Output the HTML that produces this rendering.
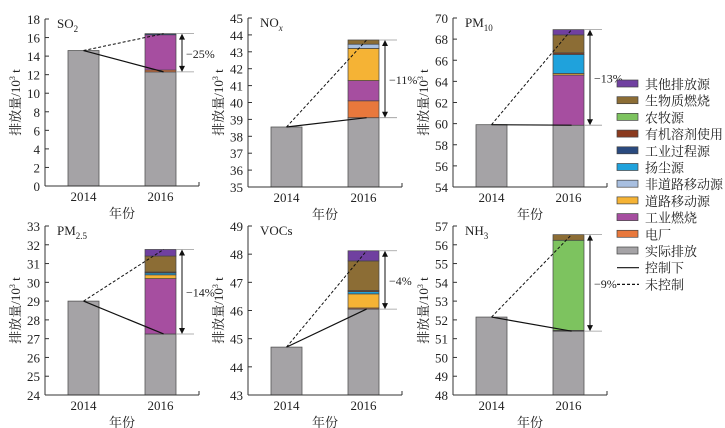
<!DOCTYPE html>
<html><head><meta charset="utf-8">
<style>
body{margin:0;background:#fff;}
svg{display:block;font-family:"Liberation Serif","Noto Serif CJK SC",serif;}
</style></head>
<body>
<svg id="chart" width="725" height="428" viewBox="0 0 725 428"></svg>
<script>
// ---- data ----
const panelTitles = ["SO2","NOx","PM10","PM2.5","VOCs","NH3"];
const yMins = [0,35,54,24,43,48];
const yMaxs = [18,45,70,33,49,57];
const tickSteps = [2,1,2,1,1,1];
const years = ["2014","2016"];
const emis2014 = [14.6,38.55,59.9,29.0,44.7,52.15];
const actual2016 = [12.3,39.1,59.85,27.25,46.05,51.4];
const changeLabels = ["−25%","−11%","−13%","−14%","−4%","−9%"];
const sources = ["电厂","工业燃烧","道路移动源","非道路移动源","扬尘源","工业过程源","有机溶剂使用","农牧源","生物质燃烧","其他排放源"];
const colors = ["#e8783c","#a64ea0","#f5b335","#a8bfe0","#1fa2dc","#2a4a7f","#8b3a1e","#7dc35f","#8c6d35","#7040a0"];
const segSO2  = [0.2,3.8,0,0,0,0.12,0,0,0,0];
const segNOx  = [1.0,1.2,1.9,0.25,0,0,0,0,0.25,0];
const segPM10 = [0,4.75,0.15,0,1.8,0,0.15,0,1.7,0.5];
const segPM25 = [0,2.95,0.2,0,0.1,0,0.05,0,0.85,0.35];
const segVOCs = [0.04,0,0.5,0,0.08,0,0.04,0,1.05,0.36];
const segNH3  = [0,0,0,0,0,0,0.04,4.8,0.3,0];
const segs = [segSO2,segNOx,segPM10,segPM25,segVOCs,segNH3];
const legendLabels = ["其他排放源","生物质燃烧","农牧源","有机溶剂使用","工业过程源","扬尘源","非道路移动源","道路移动源","工业燃烧","电厂","实际排放","控制下","未控制"];

// ---- layout ----
const axLeft=[45,248,453,45,248,453];
const axTop=[19,18,18,226,226,226];
const axBot=[186,187,187,395,395,395];
const AXW=154, BW=31, B1=23, B2=100;
const NS="http://www.w3.org/2000/svg";
const svg=document.getElementById('chart');
function el(t,a,p){const e=document.createElementNS(NS,t);for(const k in a)e.setAttribute(k,a[k]);(p||svg).appendChild(e);return e;}

const titleHTML=[["SO",["2"]],["NO",["x"]],["PM",["10"]],["PM",["2.5"]],["VOCs",[]],["NH",["3"]]];

for(let p=0;p<6;p++){
  const g=el('g',{});
  
  
  const L=axLeft[p],T=axTop[p],Bt=axBot[p];
  const y=v=>Bt-(v-yMins[p])/(yMaxs[p]-yMins[p])*(Bt-T);
  const x1=L+B1,x2=L+B2;
  const b1=el('rect',{x:x1,y:y(emis2014[p]),width:BW,height:Bt-y(emis2014[p]),fill:'#a5a3a6',stroke:'#555','stroke-width':0.8},g);
  
  
  const b2=el('rect',{x:x2,y:y(actual2016[p]),width:BW,height:Bt-y(actual2016[p]),fill:'#a5a3a6',stroke:'#555','stroke-width':0.8},g);
  
  
  let cum=actual2016[p];
  segs[p].forEach((v,i)=>{
    if(v<=0)return;
    const r=el('rect',{x:x2,y:y(cum+v),width:BW,height:y(cum)-y(cum+v),fill:colors[i],stroke:'#444','stroke-width':0.7},g);
    
    
    cum+=v;
  });
  const total=cum;
  el('line',{x1:L,y1:T,x2:L,y2:Bt,stroke:'#333','stroke-width':1},g);
  el('line',{x1:L,y1:Bt,x2:L+AXW,y2:Bt,stroke:'#333','stroke-width':1},g);
  el('line',{x1:L+AXW,y1:Bt,x2:L+AXW,y2:Bt-4,stroke:'#333','stroke-width':1},g);
  for(let v=yMins[p];v<=yMaxs[p]+1e-9;v+=tickSteps[p]){
    el('line',{x1:L,y1:y(v),x2:L+4,y2:y(v),stroke:'#333','stroke-width':1},g);
    const t=el('text',{x:L-5,y:y(v)+5,'text-anchor':'end','font-size':13,fill:'#222'},g);
    t.textContent=v;
    
    
  }
  [x1,x2].forEach((xx,i)=>{
    const t=el('text',{x:xx+BW/2,y:Bt+15,'text-anchor':'middle','font-size':13,fill:'#222'},g);
    t.textContent=years[i];
    
    
  });
  const xt=el('text',{x:L+77,y:Bt+32,'text-anchor':'middle','font-size':13,fill:'#222'},g);
  xt.textContent='年份';
  
  
  const yt=el('text',{x:0,y:0,'text-anchor':'middle','font-size':13,fill:'#222',transform:`translate(${L-25},${(T+Bt)/2}) rotate(-90)`},g);
  yt.innerHTML='排放量/10<tspan dy="-5" font-size="8">3</tspan><tspan dy="5"> t</tspan>';
  
  
  const tt=el('text',{x:L+12,y:T+9,'font-size':13,fill:'#222'},g);
  tt.innerHTML=titleHTML[p][0]+(titleHTML[p][1].length?`<tspan dy="4" font-size="9" ${p==1?'font-style="italic"':''}>${titleHTML[p][1][0]}</tspan>`:'');
  
  
  const cx1=x1+BW/2;
  el('line',{x1:cx1,y1:y(emis2014[p]),x2:x2+BW*0.6,y2:y(actual2016[p]),stroke:'#111','stroke-width':1.2},g);
  el('line',{x1:cx1,y1:y(emis2014[p]),x2:x2+BW*0.6,y2:y(total),stroke:'#111','stroke-width':1,'stroke-dasharray':'3,2'},g);
  const xr=x2+BW;
  el('line',{x1:xr,y1:y(total),x2:xr+18,y2:y(total),stroke:'#999','stroke-width':0.8},g);
  el('line',{x1:xr,y1:y(actual2016[p]),x2:xr+18,y2:y(actual2016[p]),stroke:'#999','stroke-width':0.8},g);
  const ax=xr+6,ya=y(total),yb=y(actual2016[p]);
  el('line',{x1:ax,y1:ya+3,x2:ax,y2:yb-3,stroke:'#111','stroke-width':1},g);
  el('path',{d:`M${ax-3},${ya+6}L${ax},${ya}L${ax+3},${ya+6}Z M${ax-3},${yb-6}L${ax},${yb}L${ax+3},${yb-6}Z`,fill:'#111'},g);
  const ct=el('text',{x:ax+4,y:(ya+yb)/2+5,'font-size':12,fill:'#222'},g);
  ct.textContent=changeLabels[p];
  
  
}
const lg=el('g',{});


const legColors=["#7040a0","#8c6d35","#7dc35f","#8b3a1e","#2a4a7f","#1fa2dc","#a8bfe0","#f5b335","#a64ea0","#e8783c","#a5a3a6"];
legendLabels.forEach((lab,i)=>{
  const yy=84+i*16.7;
  const e=el('g',{},lg);
  
  
  if(i<11) el('rect',{x:617,y:yy-4,width:21,height:7,fill:legColors[i],stroke:'#444','stroke-width':0.7},e);
  else el('line',{x1:617,y1:yy,x2:639,y2:yy,stroke:'#111','stroke-width':1.2,'stroke-dasharray':i==12?'3,2':'none'},e);
  const t=el('text',{x:645,y:yy+5,'font-size':13,fill:'#222'},e);
  t.textContent=lab;
});
</script>
</body></html>
